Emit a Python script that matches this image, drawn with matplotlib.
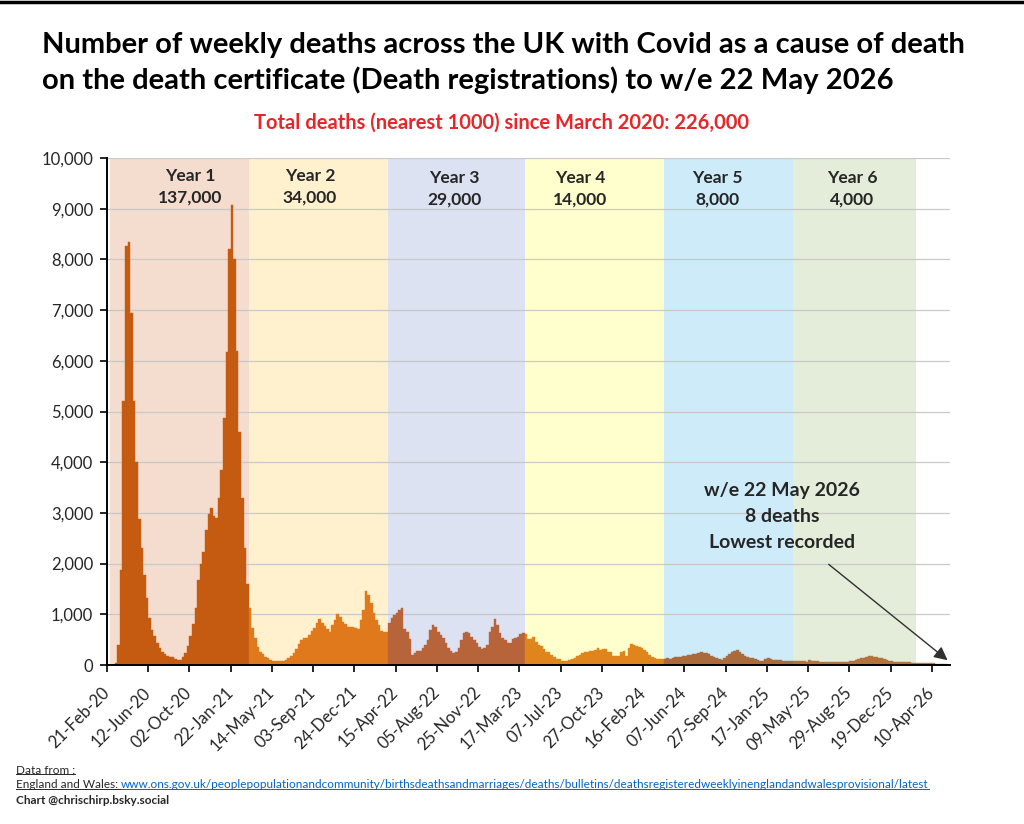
import matplotlib
matplotlib.use("Agg")
import matplotlib.pyplot as plt
from matplotlib.lines import Line2D

plt.rcParams['font.family'] = ['Lato', 'DejaVu Sans']

# weekly deaths, w/e 21-Feb-20 onwards, split by "year" block
year1 = [0, 0, 0, 30, 400, 1870, 5200, 8270, 8350, 6950,
         5200, 4000, 2870, 2300, 1770, 1330, 930, 700, 570, 440,
         340, 250, 210, 170, 150, 150, 120, 95, 100, 150,
         240, 380, 570, 800, 1130, 1670, 2000, 2230, 2670, 2970,
         3100, 2930, 2900, 3300, 3850, 4870, 6170, 8200, 9070, 8000,
         6200, 4600, 3300, 2300, 1600]
year2 = [1120, 725, 525, 350, 265, 215, 160, 130, 100, 85,
         85, 80, 80, 80, 100, 130, 170, 245, 320, 420,
         495, 540, 540, 585, 670, 725, 825, 900, 835, 770,
         705, 660, 790, 890, 1000, 955, 855, 810, 755, 745,
         745, 725, 705, 890, 1085, 1465, 1380, 1215, 1020, 890,
         790, 670, 660, 660]
year3 = [825, 920, 985, 1035, 1085, 1120, 705, 660, 505, 200,
         245, 275, 280, 330, 395, 495, 690, 790, 755, 660,
         590, 525, 440, 345, 280, 235, 265, 330, 495, 640,
         660, 625, 560, 495, 430, 350, 310, 330, 395, 660,
         745, 900, 790, 625, 525, 495, 430, 430, 505, 525,
         560, 610, 625]
year4 = [615, 505, 520, 550, 455, 385, 375, 320, 255, 255,
         205, 155, 125, 110, 80, 78, 80, 90, 110, 135,
         175, 205, 230, 255, 255, 275, 275, 300, 335, 300,
         310, 308, 255, 255, 175, 178, 176, 255, 268, 175,
         335, 420, 400, 375, 355, 335, 290, 255, 205, 155,
         135, 125, 110, 112]
year5 = [120, 130, 120, 130, 150, 165, 150, 170, 185, 200,
         200, 215, 215, 235, 250, 235, 235, 210, 185, 150,
         130, 120, 105, 130, 185, 215, 250, 285, 305, 265,
         215, 185, 150, 130, 130, 120, 105, 85, 85, 120,
         130, 120, 105, 105, 100, 105, 85, 85, 85, 80]
year6 = [85, 78, 78, 72, 72, 66, 105, 78, 72, 72,
         66, 66, 60, 66, 66, 60, 60, 60, 60, 60,
         66, 66, 72, 85, 105, 118, 131, 144, 151, 170,
         170, 157, 151, 144, 131, 111, 98, 85, 72, 66,
         66, 60, 60, 52, 52, 52, 46, 46]
year7 = [45, 40, 38, 38, 32, 30, 30, 28, 25, 22, 20, 18, 8]

year_names = ['Year 1', 'Year 2', 'Year 3', 'Year 4', 'Year 5', 'Year 6']
year_totals = ['137,000', '34,000', '29,000', '14,000', '8,000', '4,000']

tick_labels = ['21-Feb-20', '12-Jun-20', '02-Oct-20', '22-Jan-21', '14-May-21',
               '03-Sep-21', '24-Dec-21', '15-Apr-22', '05-Aug-22', '25-Nov-22',
               '17-Mar-23', '07-Jul-23', '27-Oct-23', '16-Feb-24', '07-Jun-24',
               '27-Sep-24', '17-Jan-25', '09-May-25', '29-Aug-25', '19-Dec-25',
               '10-Apr-26']

bar_cols = ['#C55A11', '#E0791B', '#B8643A', '#E0851C', '#AA6A3C', '#B4733A', '#BE7A36']
shade_cols = ['#F4DCCF', '#FFF1CE', '#DCE2F2', '#FFFFCD', '#CDEBF8', '#E3EDDA']
shade_edges = [0.6, 54.5, 108.5, 161.5, 215.5, 265.5, 313.2]
label_x = [31.9, 78.2, 134.4, 183.0, 236.1, 288.5]

blocks = [year1, year2, year3, year4, year5, year6, year7]
values, colors = [], []
for blk, c in zip(blocks, bar_cols):
    values += blk
    colors += [c] * len(blk)
x = list(range(len(values)))

fig = plt.figure(figsize=(10.24, 8.24), dpi=100)
ax = fig.add_axes([107 / 1024, 1 - 665 / 824, 843 / 1024, 507 / 824])

for i, c in enumerate(shade_cols):
    ax.axvspan(shade_edges[i], shade_edges[i + 1], color=c, lw=0, zorder=0)
for v in range(1000, 10001, 1000):
    ax.axhline(v, color='#C9C9C9', lw=0.9, zorder=1)

ax.bar(x, values, width=1.0, color=colors, edgecolor=colors, linewidth=0.3, zorder=3)

ax.set_xlim(-0.5, len(values) - 0.5)
ax.set_ylim(0, 10000)
ax.set_yticks(range(0, 10001, 1000))
ax.set_yticklabels([f'{v:,}' for v in range(0, 10001, 1000)], fontsize=12, color='#262626')
ax.set_xticks([16 * j - 0.5 for j in range(len(tick_labels))])
ax.set_xticklabels(tick_labels, rotation=45, ha='right', va='center',
                   rotation_mode='anchor', fontsize=12, color='#262626')
ax.tick_params(axis='x', length=5, width=1.2, pad=13)
ax.tick_params(axis='y', length=5, width=1.2, pad=5)
for s in ['top', 'right']:
    ax.spines[s].set_visible(False)
for s in ['left', 'bottom']:
    ax.spines[s].set_linewidth(1.4)
    ax.spines[s].set_color('black')
    ax.spines[s].set_zorder(4)

for i in range(6):
    ax.text(label_x[i], 9640 if i < 2 else 9600, year_names[i], ha='center', va='center',
            fontsize=12.5, weight='bold', color='#262626', zorder=5)
    ax.text(label_x[i], 9220 if i < 2 else 9180, year_totals[i], ha='center', va='center',
            fontsize=12.5, weight='bold', color='#262626', zorder=5)

# annotation for the latest week
for yy, t in zip([3450, 2930, 2420], ['w/e 22 May 2026', '8 deaths', 'Lowest recorded']):
    ax.text(261.3, yy, t, ha='center', va='center', fontsize=14, weight='bold',
            color='#262626', zorder=5)
ax.annotate('', xy=(326.4, 60), xytext=(278.6, 2020),
            arrowprops=dict(arrowstyle='-|>', color='#303030', lw=1.0, mutation_scale=20),
            zorder=6)

# titles
fig.text(42 / 1024, 1 - 45 / 824, 'Number of weekly deaths across the UK with Covid as a cause of death',
         fontsize=21, weight='bold', va='center', ha='left')
fig.text(42 / 1024, 1 - 80 / 824, 'on the death certificate (Death registrations) to w/e 22 May 2026',
         fontsize=21, weight='bold', va='center', ha='left')
fig.text(501 / 1024, 1 - 123 / 824, 'Total deaths (nearest 1000) since March 2020: 226,000',
         fontsize=14.5, weight='bold', va='center', ha='center', color='#E8262A')
fig.add_artist(Line2D([0, 1], [0.998, 0.998], color='black', lw=2.5, transform=fig.transFigure))

# footer with underlines
fig.canvas.draw()
rend = fig.canvas.get_renderer()
inv = fig.transFigure.inverted()


def underline(t, col):
    bb = t.get_window_extent(rend).transformed(inv)
    yl = bb.y0 + 0.12 * (bb.y1 - bb.y0)
    fig.add_artist(Line2D([bb.x0, bb.x1], [yl, yl], color=col, lw=0.7, transform=fig.transFigure))
    return bb


t1 = fig.text(16 / 1024, 1 - 770 / 824, 'Data from :', fontsize=8.5, va='center', color='#262626')
underline(t1, '#262626')
t2 = fig.text(16 / 1024, 1 - 785 / 824, 'England and Wales: ', fontsize=8.5, va='center', color='#262626')
bb2 = underline(t2, '#262626')
t3 = fig.text(bb2.x1, 1 - 785 / 824,
              'www.ons.gov.uk/peoplepopulationandcommunity/birthsdeathsandmarriages/deaths/bulletins/'
              'deathsregisteredweeklyinenglandandwalesprovisional/latest',
              fontsize=8.5, va='center', color='#0563C1')
underline(t3, '#0563C1')
fig.text(16 / 1024, 1 - 801 / 824, 'Chart @chrischirp.bsky.social', fontsize=8.5, weight='bold',
         va='center', color='#262626')

fig.savefig('out.png', dpi=100, facecolor='white')
